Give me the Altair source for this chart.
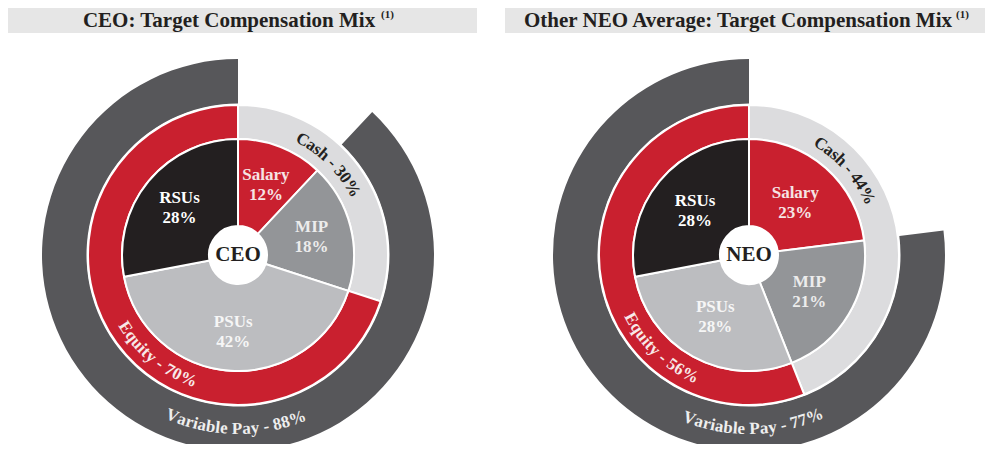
import math
import altair as alt
import pandas as pd

# ---------------- data ----------------
panel_names = ["CEO", "NEO"]
panel_titles = ["CEO: Target Compensation Mix", "Other NEO Average: Target Compensation Mix"]
title_note = "(1)"

inner_categories = ["Salary", "MIP", "PSUs", "RSUs"]
inner_ceo = [12, 18, 42, 28]
inner_neo = [23, 21, 28, 28]

ring_categories = ["Cash", "Equity"]
ring_ceo = [30, 70]
ring_neo = [44, 56]

variable_name = "Variable Pay"
variable_ceo = 88
variable_neo = 77

# where the curved ring labels sit (percent of the circle, clockwise from 12 o'clock)
cash_label_pos = [12.5, 13.5]
equity_label_pos = [60.8, 62.0]
variable_label_pos = [50.2, 49.6]

# ---------------- style ----------------
RED = "#c9202f"
inner_colors = ["#c9202f", "#939598", "#bcbdc0", "#231f20"]
inner_text_colors = ["#f6e4e4", "#ececec", "#f6f6f6", "#ffffff"]
ring_colors = ["#dcdcde", RED]
ring_text_colors = ["#231f20", "#f8e8e8"]
OUTER = "#57575a"
FONT = "Liberation Serif"

centers_x = [230, 741]
center_y = 247
inner_label_radius = [76, 70]
R_HOLE, R_INNER = 29, 116
R_RING_IN, R_RING_OUT = 116, 150
R_OUT_IN, R_OUT_OUT = 151.5, 196

theta_scale = alt.Scale(domain=[0, 100], range=[0, 2 * math.pi])

# Times/Liberation Serif Bold advance widths (1/1000 em)
W = {"C": 722, "a": 500, "s": 389, "h": 556, " ": 250, "-": 333, "%": 1000,
     "E": 667, "q": 556, "u": 556, "i": 278, "t": 333, "y": 500, "V": 722,
     "r": 444, "b": 556, "l": 278, "e": 444, "P": 611}
for d in "0123456789":
    W[d] = 500


def curved(label, center_pct, radius, size, top):
    widths = [W.get(c, 500) * size / 1000 for c in label]
    total = sum(widths)
    rows, acc = [], 0.0
    for c, w in zip(label, widths):
        s = acc + w / 2 - total / 2
        acc += w
        if c == " ":
            continue
        dpct = math.degrees(s / radius) / 3.6
        if top:
            pct = center_pct + dpct
            rot = pct * 3.6
        else:
            pct = center_pct - dpct
            rot = pct * 3.6 - 180
        rows.append({"ch": c, "pos": pct, "rot": rot % 360})
    return pd.DataFrame(rows)


def seg_frame(cats, vals, colors, tcolors=None):
    rows, acc = [], 0
    for i, (c, v) in enumerate(zip(cats, vals)):
        r = {"cat": c, "value": v, "start": acc, "end": acc + v,
             "mid": acc + v / 2, "color": colors[i],
             "label": f"{c}\n{v}%"}
        if tcolors:
            r["tcolor"] = tcolors[i]
        rows.append(r)
        acc += v
    return pd.DataFrame(rows)


layers = []
inner_sets = [inner_ceo, inner_neo]
ring_sets = [ring_ceo, ring_neo]
variable_sets = [variable_ceo, variable_neo]

for k in range(2):
    cx = centers_x[k]
    pos = dict(x=alt.value(cx), y=alt.value(center_y))

    inner = seg_frame(inner_categories, inner_sets[k], inner_colors, inner_text_colors)
    ring = seg_frame(ring_categories, ring_sets[k], ring_colors, ring_text_colors)
    salary = inner_sets[k][0]
    outer = pd.DataFrame([{"cat": variable_name, "start": salary,
                           "end": salary + variable_sets[k], "color": OUTER}])

    layers.append(alt.Chart(outer).mark_arc(radius=R_OUT_OUT, radius2=R_OUT_IN).encode(
        theta=alt.Theta("start:Q", scale=theta_scale), theta2="end:Q",
        color=alt.Color("color:N", scale=None), **pos))
    layers.append(alt.Chart(ring).mark_arc(radius=R_RING_OUT, radius2=R_RING_IN,
                                           stroke="white", strokeWidth=2).encode(
        theta=alt.Theta("start:Q", scale=theta_scale), theta2="end:Q",
        color=alt.Color("color:N", scale=None), **pos))
    layers.append(alt.Chart(inner).mark_arc(radius=R_INNER, radius2=R_HOLE,
                                            stroke="white", strokeWidth=2).encode(
        theta=alt.Theta("start:Q", scale=theta_scale), theta2="end:Q",
        color=alt.Color("color:N", scale=None), **pos))
    # inner labels (two lines, block centred on the slice)
    layers.append(alt.Chart(inner).mark_text(radius=inner_label_radius[k], font=FONT,
                                             fontWeight="bold", fontSize=17,
                                             lineBreak="\n", lineHeight=20, dy=-9,
                                             baseline="middle", align="center").encode(
        theta=alt.Theta("mid:Q", scale=theta_scale),
        text="label:N", color=alt.Color("tcolor:N", scale=None), **pos))
    # centre label
    layers.append(alt.Chart(pd.DataFrame({"t": [panel_names[k]]})).mark_text(
        font=FONT, fontWeight="bold", fontSize=21, color="#231f20",
        baseline="middle", align="center").encode(text="t:N", **pos))

    # curved ring labels
    ring_labels = [
        (f"{ring_categories[0]} - {ring_sets[k][0]}%", cash_label_pos[k], 132, True, ring_text_colors[0]),
        (f"{ring_categories[1]} - {ring_sets[k][1]}%", equity_label_pos[k], 134, False, ring_text_colors[1]),
        (f"{variable_name} - {variable_sets[k]}%", variable_label_pos[k], 174, False, "#eeeeee"),
    ]
    for text, cpos, rad, top, col in ring_labels:
        df = curved(text, cpos, rad, 17, top)
        layers.append(alt.Chart(df).mark_text(radius=rad, font=FONT, fontWeight="bold",
                                              fontSize=17, color=col,
                                              baseline="middle", align="center").encode(
            theta=alt.Theta("pos:Q", scale=theta_scale),
            angle=alt.Angle("rot:Q", scale=None),
            text="ch:N", **pos))

# title boxes
box_x = [0, 497]
box_x2 = [469, 977]
title_x = [221, 730]
note_x = [373, 948]
for k in range(2):
    layers.append(alt.Chart(pd.DataFrame({"a": [0]})).mark_rect(color="#e6e6e6").encode(
        x=alt.value(box_x[k]), x2=alt.value(box_x2[k]), y=alt.value(0), y2=alt.value(25)))
    layers.append(alt.Chart(pd.DataFrame({"t": [panel_titles[k]]})).mark_text(
        font=FONT, fontWeight="bold", fontSize=21, color="#231f20",
        baseline="alphabetic", align="center").encode(
        text="t:N", x=alt.value(title_x[k]), y=alt.value(19)))
    layers.append(alt.Chart(pd.DataFrame({"t": [title_note]})).mark_text(
        font=FONT, fontWeight="bold", fontSize=11, color="#231f20",
        baseline="alphabetic", align="left").encode(
        text="t:N", x=alt.value(note_x[k]), y=alt.value(10)))

chart = alt.layer(*layers).properties(
    width=977, height=436, padding=0,
    autosize=alt.AutoSizeParams(type="none"),
).configure_view(stroke=None)

chart.save("out.html", embed_options={"renderer": "svg", "actions": False})
